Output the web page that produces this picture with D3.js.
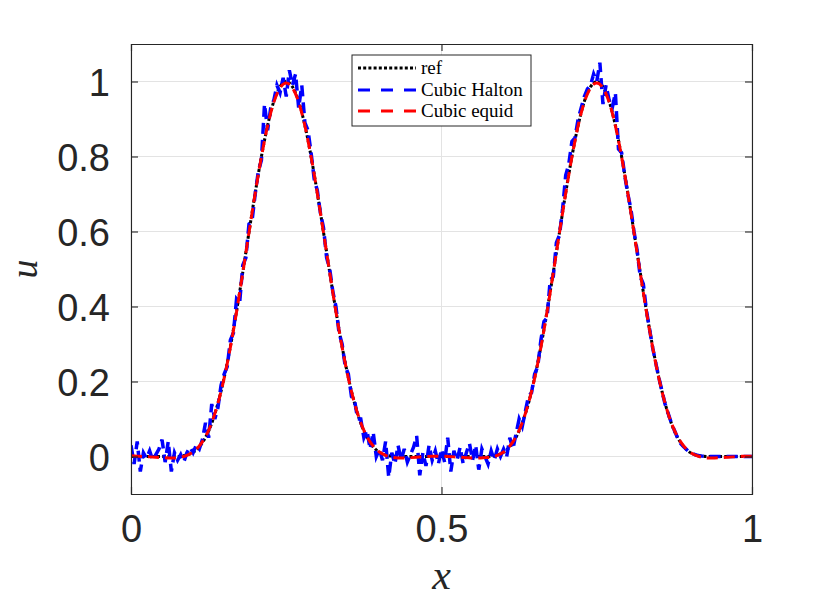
<!DOCTYPE html>
<html>
<head>
<meta charset="utf-8">
<script src="https://cdn.jsdelivr.net/npm/d3@7"></script>
<style>
  body { margin: 0; background: #fff; }
  svg { display: block; }
</style>
</head>
<body>
<div class="draw-chart"></div>
<script>
// sample grids
const xRef = d3.range(0, 101).map((i) => i / 100);
const xHalton = d3.range(0, 201).map((i) => i / 200);

// reference solution, x = 0, 0.01, ..., 1
const refValues = [
  0, 0, 0, 0, 0, 0, 0, 0, 0.001, 0.004,
  0.011, 0.026, 0.051, 0.089, 0.142, 0.210, 0.293, 0.388, 0.491, 0.598,
  0.703, 0.800, 0.883, 0.947, 0.986, 1.000, 0.986, 0.947, 0.883, 0.800,
  0.703, 0.598, 0.491, 0.388, 0.293, 0.210, 0.142, 0.089, 0.051, 0.026,
  0.011, 0.004, 0.001, 0, 0, 0, 0, 0, 0, 0,
  0, 0, 0, 0, 0, 0, 0, 0, 0.001, 0.004,
  0.011, 0.026, 0.051, 0.089, 0.142, 0.210, 0.293, 0.388, 0.491, 0.598,
  0.703, 0.800, 0.883, 0.947, 0.986, 1.000, 0.986, 0.947, 0.883, 0.800,
  0.703, 0.598, 0.491, 0.388, 0.293, 0.210, 0.142, 0.089, 0.051, 0.026,
  0.011, 0.004, 0.001, 0, 0, 0, 0, 0, 0, 0, 0
];

// cubic, equidistant nodes, x = 0, 0.01, ..., 1
const equidValues = [
  0.002, 0.001, 0, -0.001, -0.002, -0.003, -0.004, -0.004, -0.002, 0.003,
  0.012, 0.028, 0.053, 0.090, 0.142, 0.209, 0.291, 0.386, 0.490, 0.597,
  0.702, 0.799, 0.882, 0.945, 0.983, 0.996, 0.983, 0.945, 0.882, 0.799,
  0.702, 0.597, 0.490, 0.386, 0.291, 0.209, 0.142, 0.090, 0.053, 0.028,
  0.012, 0.003, -0.002, -0.004, -0.004, -0.003, -0.002, -0.001, 0, 0.001,
  0.001, 0, -0.001, -0.002, -0.003, -0.004, -0.004, -0.003, -0.002, 0.003,
  0.012, 0.028, 0.053, 0.090, 0.142, 0.209, 0.291, 0.386, 0.490, 0.597,
  0.702, 0.799, 0.882, 0.945, 0.983, 0.996, 0.983, 0.945, 0.882, 0.799,
  0.702, 0.597, 0.490, 0.386, 0.291, 0.209, 0.142, 0.090, 0.053, 0.028,
  0.012, 0.003, -0.002, -0.004, -0.004, -0.003, -0.002, -0.001, 0, 0.001, 0.001
];

// cubic, Halton nodes, x = 0, 0.005, ..., 1
const haltonValues = [
  0.03, -0.02, 0.04, -0.04, 0.01, -0.005, 0.015, -0.01, 0.005, 0.02,
  0.045, -0.015, 0.04, -0.04, 0.01, -0.01, 0.005, -0.015, 0.01, 0.025,
  0.01, 0.03, 0.02, 0.045, 0.09, 0.05, 0.14, 0.10, 0.13, 0.19,
  0.22, 0.24, 0.31, 0.33, 0.42, 0.41, 0.51, 0.53, 0.62, 0.63,
  0.70, 0.76, 0.79, 0.94, 0.87, 0.93, 0.95, 0.99, 0.97, 1.01,
  0.96, 1.03, 0.99, 1.02, 0.93, 0.99, 0.89, 0.87, 0.81, 0.74,
  0.71, 0.65, 0.61, 0.53, 0.50, 0.44, 0.40, 0.33, 0.30, 0.24,
  0.22, 0.16, 0.15, 0.10, 0.10, 0.05, 0.07, 0.02, 0.065, 0.0,
  0.02, -0.01, 0.04, -0.055, 0.01, -0.02, 0.03, -0.01, 0.02, -0.015,
  0.005, 0.025, 0.055, -0.05, 0.01, -0.025, 0.03, -0.01, 0.015, -0.02,
  0.02, -0.015, 0.05, -0.04, 0.015, -0.01, 0.025, -0.02, 0.01, 0.035,
  -0.01, 0.03, -0.035, 0.02, 0.0, -0.02, 0.015, -0.01, 0.02, 0.0,
  0.02, 0.00, 0.05, 0.02, 0.06, 0.10, 0.08, 0.12, 0.16, 0.17,
  0.22, 0.24, 0.31, 0.36, 0.37, 0.47, 0.48, 0.57, 0.59, 0.66,
  0.75, 0.78, 0.84, 0.85, 0.90, 0.93, 0.96, 0.98, 0.99, 1.02,
  1.00, 1.05, 0.94, 0.99, 0.95, 0.93, 0.97, 0.82, 0.81, 0.75,
  0.70, 0.66, 0.60, 0.55, 0.48, 0.46, 0.39, 0.34, 0.29, 0.25,
  0.21, 0.175, 0.14, 0.115, 0.09, 0.07, 0.05, 0.035, 0.026, 0.018,
  0.011, 0.007, 0.004, 0.002, 0.001, 0, 0, 0, 0, 0,
  0, 0, 0, 0, 0, 0, 0, 0, 0, 0, 0
];

const xTicks = [0, 0.5, 1];
const yTicks = [0, 0.2, 0.4, 0.6, 0.8, 1];
const legendLabels = ["ref", "Cubic Halton", "Cubic equid"];

const W = 830, H = 606;
const margin = { top: 44, right: 78, bottom: 112, left: 131 };
const width = W - margin.left - margin.right;
const height = H - margin.top - margin.bottom;
const axisColor = "#262626";

const svg = d3
  .select(".draw-chart")
  .append("svg")
  .attr("width", W)
  .attr("height", H);

const g = svg
  .append("g")
  .attr("transform", "translate(" + margin.left + "," + margin.top + ")");

const x = d3.scaleLinear().domain([0, 1]).range([0, width]);
const y = d3.scaleLinear().domain([-0.1, 1.1]).range([height, 0]);

// grid
g.append("g")
  .selectAll("line")
  .data(yTicks)
  .join("line")
  .attr("x1", 0)
  .attr("x2", width)
  .attr("y1", (d) => y(d))
  .attr("y2", (d) => y(d))
  .attr("stroke", "#e3e3e3")
  .attr("stroke-width", 1);
g.append("g")
  .selectAll("line")
  .data(xTicks)
  .join("line")
  .attr("x1", (d) => x(d))
  .attr("x2", (d) => x(d))
  .attr("y1", 0)
  .attr("y2", height)
  .attr("stroke", "#e3e3e3")
  .attr("stroke-width", 1);

// curves
g.append("defs")
  .append("clipPath")
  .attr("id", "clip")
  .append("rect")
  .attr("width", width)
  .attr("height", height);

const plot = g.append("g").attr("clip-path", "url(#clip)");

const smooth = d3
  .line()
  .x((d) => x(d[0]))
  .y((d) => y(d[1]))
  .curve(d3.curveMonotoneX);
const rough = d3
  .line()
  .x((d) => x(d[0]))
  .y((d) => y(d[1]));

const series = [
  { label: legendLabels[0], xs: xRef, ys: refValues, color: "#000", dash: "3,2.2", w: 3, line: smooth },
  { label: legendLabels[1], xs: xHalton, ys: haltonValues, color: "#0000ff", dash: "11,6", w: 3.5, line: rough },
  { label: legendLabels[2], xs: xRef, ys: equidValues, color: "#ff0000", dash: "11,6", w: 3, line: smooth },
];

series.forEach(function (s) {
  plot
    .append("path")
    .datum(s.xs.map((v, i) => [v, s.ys[i]]))
    .attr("fill", "none")
    .attr("stroke", s.color)
    .attr("stroke-width", s.w)
    .attr("stroke-dasharray", s.dash)
    .attr("d", s.line);
});

// axes (box with inward ticks)
const tickLen = 7;
const yAxisL = g.append("g").call(d3.axisLeft(y).tickValues(yTicks).tickSize(-tickLen).tickPadding(21).tickFormat(d3.format("~g")));
const yAxisR = g.append("g").attr("transform", "translate(" + width + ",0)").call(d3.axisRight(y).tickValues(yTicks).tickSize(-tickLen).tickFormat(""));
const xAxisB = g.append("g").attr("transform", "translate(0," + height + ")").call(d3.axisBottom(x).tickValues(xTicks).tickSize(-tickLen).tickPadding(12).tickFormat(d3.format("~g")));
const xAxisT = g.append("g").call(d3.axisTop(x).tickValues(xTicks).tickSize(-tickLen).tickFormat(""));

[yAxisL, yAxisR, xAxisB, xAxisT].forEach(function (a) {
  a.select(".domain").attr("stroke", axisColor).attr("stroke-width", 1.1);
  a.selectAll(".tick line").attr("stroke", axisColor).attr("stroke-width", 1.1);
  a.selectAll("text")
    .attr("fill", axisColor)
    .style("font-family", "'Liberation Sans', Arial, sans-serif")
    .style("font-size", "38px");
});
yAxisL.selectAll("text").attr("dy", "0.36em");
xAxisB.selectAll("text").attr("dy", "0.95em");

// axis labels
svg.append("text")
  .attr("x", margin.left + x(0.5))
  .attr("y", 589)
  .attr("text-anchor", "middle")
  .style("font-family", "'Liberation Serif', 'Times New Roman', serif")
  .style("font-style", "italic")
  .style("font-size", "42px")
  .attr("fill", axisColor)
  .text("x");

svg.append("text")
  .attr("transform", "translate(37," + (margin.top + y(0.5)) + ") rotate(-90)")
  .attr("text-anchor", "middle")
  .style("font-family", "'Liberation Serif', 'Times New Roman', serif")
  .style("font-style", "italic")
  .style("font-size", "38px")
  .attr("fill", axisColor)
  .text("u");

// legend
const legend = svg.append("g").attr("transform", "translate(352,55)");
legend.append("rect")
  .attr("width", 179)
  .attr("height", 71)
  .attr("fill", "#fff")
  .attr("stroke", axisColor)
  .attr("stroke-width", 1);

const rowY = [13, 35, 56];
series.forEach(function (s, i) {
  legend.append("line")
    .attr("x1", 6)
    .attr("x2", 64)
    .attr("y1", rowY[i])
    .attr("y2", rowY[i])
    .attr("stroke", s.color)
    .attr("stroke-width", 3)
    .attr("stroke-dasharray", i === 0 ? "3,2.2" : "12,11");
  legend.append("text")
    .attr("x", 69)
    .attr("y", rowY[i])
    .attr("dy", "0.32em")
    .style("font-family", "'Liberation Serif', 'Times New Roman', serif")
    .style("font-size", "19px")
    .attr("fill", "#000")
    .text(s.label);
});
</script>
</body>
</html>
